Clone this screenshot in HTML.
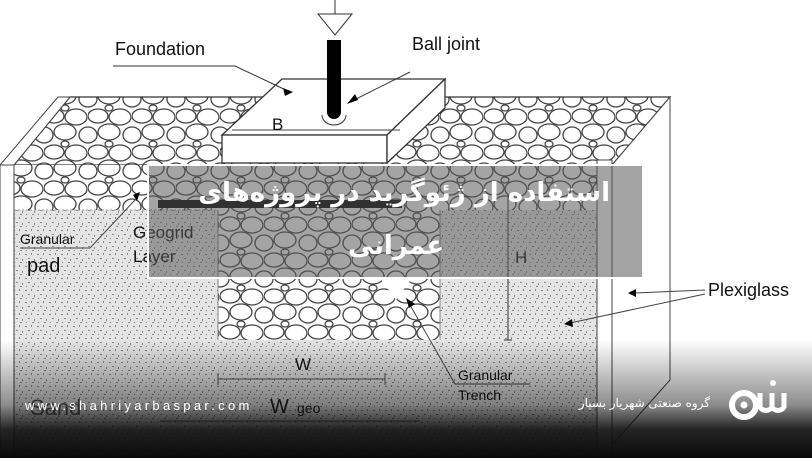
<!DOCTYPE html>
<html><head><meta charset="utf-8"><style>
html,body{margin:0;padding:0;background:#fff;}
body{width:812px;height:458px;overflow:hidden;position:relative;font-family:"Liberation Sans",sans-serif;}
svg{position:absolute;left:0;top:0}
.t{position:absolute;color:#fff;font-family:"DejaVu Sans","Noto Sans CJK SC",sans-serif;direction:rtl;white-space:nowrap;font-weight:bold;}
</style></head><body>
<svg width="812" height="458" viewBox="0 0 812 458" xmlns="http://www.w3.org/2000/svg">
<defs>
<pattern id="grav" width="44" height="36" patternUnits="userSpaceOnUse">
<rect width="44" height="36" fill="#fff"/>
<g fill="#fff" stroke="#444" stroke-width="1.3">
<ellipse cx="10" cy="8" rx="10" ry="7"/>
<ellipse cx="32" cy="9" rx="11" ry="8"/>
<ellipse cx="21" cy="24" rx="11" ry="8"/>
<ellipse cx="0" cy="27" rx="9" ry="8"/>
<ellipse cx="44" cy="27" rx="9" ry="8"/>
<ellipse cx="21" cy="0" rx="4" ry="3"/>
<ellipse cx="21" cy="36" rx="4" ry="3"/>
</g>
</pattern>
<pattern id="sand" width="12" height="12" patternUnits="userSpaceOnUse">
<rect width="12" height="12" fill="#e4e4e4"/>
<g fill="#888">
<rect x="1" y="2" width="2" height="1"/><rect x="7" y="1" width="1" height="2"/>
<rect x="4" y="6" width="2" height="1"/><rect x="10" y="7" width="1" height="2"/>
<rect x="2" y="10" width="1" height="1"/><rect x="8" y="10" width="2" height="1"/>
</g>
</pattern>
<linearGradient id="fade" x1="0" y1="0" x2="0" y2="1">
<stop offset="0" stop-color="#000" stop-opacity="0"/>
<stop offset="0.55" stop-color="#000" stop-opacity="0.45"/>
<stop offset="0.76" stop-color="#111" stop-opacity="0.92"/>
<stop offset="1" stop-color="#0a0a0a" stop-opacity="1"/>
</linearGradient>
</defs>

<rect x="14" y="165" width="583" height="293" fill="url(#sand)"/>
<polygon points="14,165 70,97 670,97 612,165" fill="url(#grav)" stroke="#333" stroke-width="1.2"/>
<rect x="14" y="165" width="583" height="45" fill="url(#grav)"/>
<line x1="14" y1="210" x2="218" y2="210" stroke="#999" stroke-dasharray="2,2"/>
<rect x="218" y="165" width="222" height="175" fill="url(#grav)"/>
<line x1="218" y1="210" x2="218" y2="340" stroke="#888"/>
<line x1="440" y1="210" x2="440" y2="340" stroke="#888"/>
<rect x="0" y="165" width="14" height="293" fill="#fff" stroke="#444"/>
<polygon points="0,165 58,97 70,97 14,165" fill="#fff" stroke="#444"/>
<rect x="597" y="160" width="15" height="298" fill="#fff" stroke="#444"/>
<polygon points="612,165 670,97 670,380 612,445" fill="#fff" stroke="#444"/>

<polygon points="282,79 445,79 387,135 222,135" fill="#fff" stroke="#333" stroke-width="1.3"/>
<rect x="222" y="135" width="165" height="28" fill="#fff" stroke="#333" stroke-width="1.3"/>
<polygon points="387,135 445,79 445,108 387,163" fill="#fff" stroke="#333" stroke-width="1.3"/>
<line x1="232" y1="130" x2="400" y2="130" stroke="#444"/>
<text x="272" y="130" font-size="17" fill="#111">B</text>
<path d="M327,40 h14 v72 a7,7 0 0 1 -14,0 z" fill="#000"/>
<path d="M322,115 a12,10 0 0 0 24,0" fill="none" stroke="#333"/>
<line x1="335" y1="0" x2="335" y2="14" stroke="#333"/>
<polygon points="318,14 352,14 335,35" fill="#fff" stroke="#333"/>

<text x="115" y="55" font-size="18" fill="#111">Foundation</text>
<polyline points="113,66 235,66 290,92" fill="none" stroke="#333"/>
<polygon points="283,88 293,92 285,96" fill="#000"/>
<text x="412" y="50" font-size="18" fill="#111">Ball joint</text>
<line x1="410" y1="72" x2="350" y2="102" stroke="#333"/>
<polygon points="347,104 355,94 358,100" fill="#000"/>
<text x="20" y="244" font-size="14" fill="#111">Granular</text>
<text x="27" y="272" font-size="20" fill="#111">pad</text>
<polyline points="20,248 90,248 135,200" fill="none" stroke="#444"/>
<polygon points="133,195 140,192 137,201" fill="#000"/>
<text x="133" y="238" font-size="17" fill="#111">Geogrid</text>
<text x="133" y="262" font-size="17" fill="#111">Layer</text>
<rect x="158" y="200" width="244" height="8" fill="#000"/>
<line x1="508" y1="195" x2="508" y2="340" stroke="#333"/>
<line x1="504" y1="340" x2="512" y2="340" stroke="#333"/>
<text x="515" y="263" font-size="17" fill="#111">H</text>
<text x="295" y="370" font-size="17" fill="#111">W</text>
<line x1="218" y1="379" x2="385" y2="379" stroke="#555"/>
<line x1="218" y1="373" x2="218" y2="385" stroke="#555"/>
<line x1="385" y1="373" x2="385" y2="385" stroke="#555"/>
<text x="270" y="413" font-size="20" fill="#222">W</text>
<text x="297" y="413" font-size="14" fill="#222">geo</text>
<line x1="160" y1="421" x2="420" y2="421" stroke="#555"/>
<text x="30" y="415" font-size="22" fill="#555">Sand</text>
<text x="458" y="380" font-size="14" fill="#111">Granular</text>
<text x="458" y="400" font-size="14" fill="#111">Trench</text>
<polyline points="530,384 455,384 410,305" fill="none" stroke="#444"/>
<polygon points="406,298 415,304 409,308" fill="#000"/>
<text x="708" y="296" font-size="18" fill="#111">Plexiglass</text>
<line x1="705" y1="290" x2="635" y2="293" stroke="#444"/>
<polygon points="628,293 636,289 636,297" fill="#000"/>
<line x1="705" y1="294" x2="570" y2="323" stroke="#444"/>
<polygon points="564,324 572,319 573,327" fill="#000"/>

<rect x="148" y="165" width="495" height="113" fill="#5a5a5a" fill-opacity="0.55" stroke="#fff" stroke-width="2"/>
<polygon points="380,278 412,278 396,300" fill="#fff"/>

<rect x="0" y="340" width="812" height="118" fill="url(#fade)"/>
<text x="25" y="410" font-size="13" fill="#fff" letter-spacing="3.3">www.shahriyarbaspar.com</text>
<!-- logo -->
<circle cx="744" cy="405" r="12" fill="none" stroke="#fff" stroke-width="6"/>
<circle cx="744" cy="405" r="3.5" fill="#fff"/>
<path d="M760,393 v14 a7,7 0 0 0 12,0 v-14 M772,393 v14 a7,7 0 0 0 12,0 v-14" fill="none" stroke="#fff" stroke-width="5"/>
<circle cx="773" cy="383" r="3" fill="#fff"/>
</svg>
<div class="t" style="right:202px;top:176px;font-size:26px;line-height:34px;">استفاده از ژئوگرید در پروژه‌های</div>
<div class="t" style="left:0;width:812px;text-align:center;direction:rtl;top:229px;font-size:26px;line-height:34px;"><span style="position:relative;left:-10px">عمرانی</span></div>
<div class="t" style="right:102px;top:396px;font-size:12px;font-weight:normal;">گروه صنعتی شهریار بسپار</div>
</body></html>
